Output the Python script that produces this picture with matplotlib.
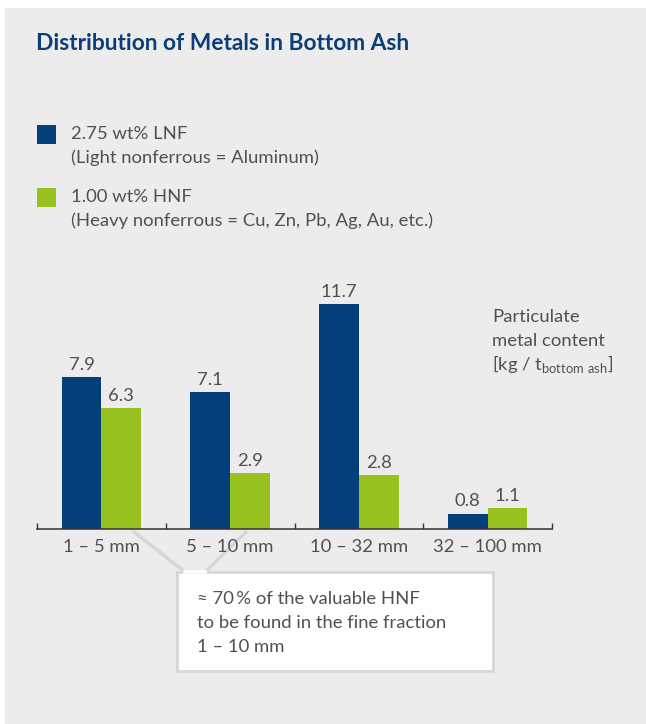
import numpy as np
import matplotlib
matplotlib.use("Agg")
import matplotlib.pyplot as plt
from matplotlib.patches import Rectangle
from matplotlib.lines import Line2D

# data
categories = ["1 – 5 mm", "5 – 10 mm", "10 – 32 mm", "32 – 100 mm"]
lnf = [7.9, 7.1, 11.7, 0.8]
hnf = [6.3, 2.9, 2.8, 1.1]
lnf_label = "2.75 wt% LNF\n(Light nonferrous = Aluminum)"
hnf_label = "1.00 wt% HNF\n(Heavy nonferrous = Cu, Zn, Pb, Ag, Au, etc.)"
title = "Distribution of Metals in Bottom Ash"
unit_lines = ["Particulate", "metal content", "[kg / t$_{\\mathregular{bottom\\ ash}}$]"]
note_text = "≈ 70\u2009% of the valuable HNF\nto be found in the fine fraction\n1 – 10 mm"

BLUE = "#023f7b"
GREEN = "#96c11f"
GREY = "#505050"
BG = "#ececec"
FS = 13.3

plt.rcParams['font.family'] = ['Lato', 'DejaVu Sans']
plt.rcParams['mathtext.fontset'] = 'custom'
plt.rcParams['mathtext.rm'] = 'Lato'

W, H = 646, 724
fig = plt.figure(figsize=(W / 100, H / 100), dpi=100)
fig.patch.set_facecolor("white")

def fx(x):
    return x / W

def fy(y):
    return 1 - y / H

# grey panel
fig.patches.append(Rectangle((fx(5), 0), 1 - fx(5), fy(8), transform=fig.transFigure,
                             facecolor=BG, edgecolor="none", zorder=-5))

fig.text(fx(36), fy(44), title, color="#0b3d78", fontsize=16.4, fontweight="bold",
         va="center", ha="left")

# legend
for (y0, col, lab) in [(125, BLUE, lnf_label), (188, GREEN, hnf_label)]:
    fig.patches.append(Rectangle((fx(37), fy(y0 + 19)), fx(19), 19 / H, transform=fig.transFigure,
                                 facecolor=col, edgecolor="none"))
    fig.text(fx(71), fy(y0 + 14), lab.split("\n")[0], color=GREY, fontsize=FS,
             va="baseline", ha="left")
    fig.text(fx(71), fy(y0 + 38), lab.split("\n")[1], color=GREY, fontsize=FS,
             va="baseline", ha="left")

# axes
ax_left, ax_right, ax_base, ax_top = 37, 552, 529, 280
ax = fig.add_axes([fx(ax_left), fy(ax_base), fx(ax_right - ax_left), (ax_base - ax_top) / H])
ax.set_zorder(2)
ax.set_facecolor("none")
x = np.arange(len(categories))
w = 0.308
b1 = ax.bar(x - w / 2, lnf, w, color=BLUE)
b2 = ax.bar(x + w / 2, hnf, w, color=GREEN)
ax.bar_label(b1, labels=[str(v) for v in lnf], padding=3, color=GREY, fontsize=FS)
ax.bar_label(b2, labels=[str(v) for v in hnf], padding=3, color=GREY, fontsize=FS)
ax.set_xlim(-0.5, len(categories) - 0.5)
ax.set_ylim(0, (ax_base - ax_top) / 19.23)

for s in ["top", "left", "right"]:
    ax.spines[s].set_visible(False)
ax.spines["bottom"].set_color("#333333")
ax.spines["bottom"].set_linewidth(1.1)
ax.set_yticks([])
ax.set_xticks(np.arange(len(categories) + 1) - 0.5)
ax.set_xticklabels([])
ax.tick_params(axis="x", which="major", direction="in", length=4, width=1, color="#333333")
ax.set_xticks(x, minor=True)
ax.set_xticklabels(categories, minor=True)
ax.tick_params(axis="x", which="minor", length=0, pad=7, labelsize=FS, labelcolor=GREY)

for i, line in enumerate(unit_lines):
    fig.text(fx(492), fy(322 + 24 * i), line, color=GREY, fontsize=FS, va="baseline", ha="left")

# callout box with tail
edge = "#d6d6d6"
fig.patches.append(Rectangle((fx(177), fy(671)), fx(493 - 177), (671 - 572) / H,
                             transform=fig.transFigure, facecolor="white", edgecolor=edge,
                             linewidth=2, zorder=3))
fig.lines.append(Line2D([fx(185), fx(205)], [fy(572), fy(572)], transform=fig.transFigure,
                        color="white", linewidth=2.6, zorder=4))
fig.lines.append(Line2D([fx(133), fx(185)], [fy(531), fy(572)], transform=fig.transFigure,
                        color=edge, linewidth=2.4, zorder=1, solid_capstyle="butt"))
fig.lines.append(Line2D([fx(247), fx(205)], [fy(531), fy(572)], transform=fig.transFigure,
                        color=edge, linewidth=2.4, zorder=1, solid_capstyle="butt"))
for i, line in enumerate(note_text.split("\n")):
    fig.text(fx(197), fy(604 + 24 * i), line, color=GREY, fontsize=FS, va="baseline",
             ha="left", zorder=5)

fig.savefig("out.png", dpi=100)
